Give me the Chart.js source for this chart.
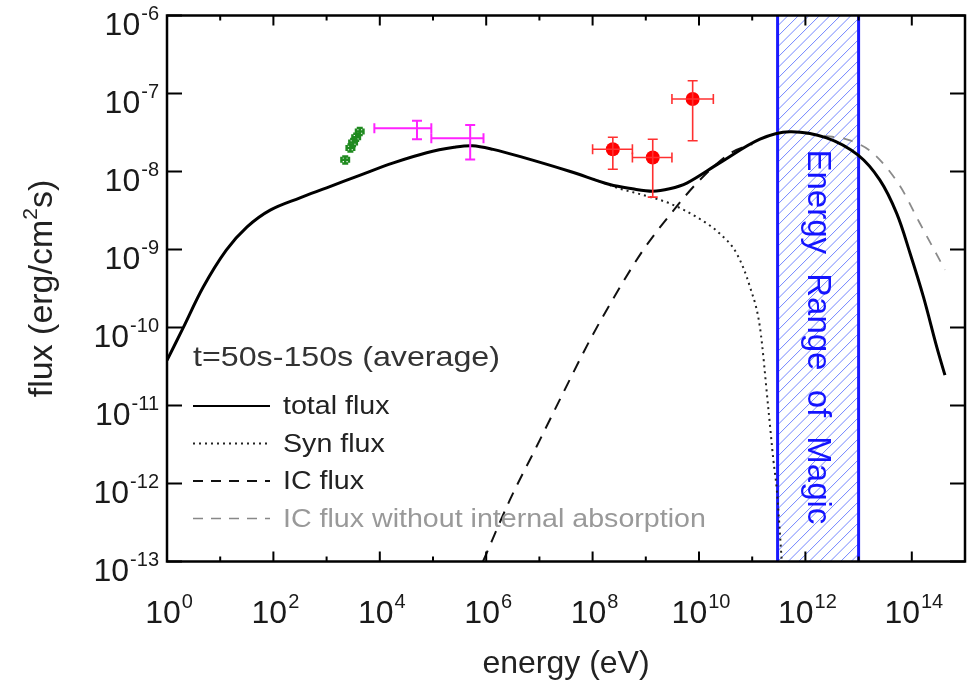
<!DOCTYPE html>
<html>
<head>
<meta charset="utf-8">
<title>SED t=50s-150s</title>
<script src="https://cdn.jsdelivr.net/npm/chart.js@4.4.0/dist/chart.umd.min.js"></script>
<style>
  html, body { margin: 0; padding: 0; background: #fff; }
  #wrap { width: 977px; height: 684px; position: relative; }
</style>
</head>
<body>
<div id="wrap"><canvas id="sed"></canvas></div>
<script>
// energy in eV, flux in erg/cm^2/s
const totalE = [1, 2.0, 4.8, 13, 32, 87, 316, 1e3, 4.3e3, 1.8e4, 7.6e4, 2.5e5, 5.5e5, 1.35e6, 4.4e6, 3.8e7, 2.1e8, 5.6e8, 1.35e9, 2.8e9, 5.9e9, 2.45e10, 1.4e11, 5.1e11, 2.5e12, 9.8e12, 2.5e13, 5.2e13, 9.3e13, 1.66e14, 2.95e14, 4.2e14];
const totalF = [3.8e-11, 9.8e-11, 3.3e-10, 9.8e-10, 1.95e-9, 3.2e-9, 4.6e-9, 6.17e-9, 9.0e-9, 1.29e-8, 1.74e-8, 2.04e-8, 2.14e-8, 1.92e-8, 1.55e-8, 1.0e-8, 6.8e-9, 6.0e-9, 5.6e-9, 6.0e-9, 7.1e-9, 1.29e-8, 2.6e-8, 3.24e-8, 2.7e-8, 1.62e-8, 7.8e-9, 2.9e-9, 8.9e-10, 2.45e-10, 5.6e-11, 2.45e-11];

const synE = [1.0e8, 2.1e8, 3.3e8, 8.9e8, 2.8e9, 9.1e9, 2.45e10, 5.1e10, 9.1e10, 1.4e11, 2.0e11, 2.5e11, 2.9e11, 3.6e11];
const synF = [8.1e-9, 6.7e-9, 6.0e-9, 5.0e-9, 3.9e-9, 2.6e-9, 1.6e-9, 8.9e-10, 3.3e-10, 1.0e-10, 9.5e-12, 2.0e-12, 8.3e-13, 1.0e-13];

const icE = [8.7e5, 2.8e6, 8.9e6, 2.8e7, 8.9e7, 2.8e8, 8.9e8, 2.8e9, 9.1e9, 3.8e10, 1.0e11];
const icF = [1.0e-13, 6.2e-13, 3.0e-12, 1.45e-11, 6.9e-11, 2.75e-10, 9.8e-10, 2.75e-9, 7.1e-9, 1.7e-8, 2.25e-8];

const icNoAbsE = [1.0e12, 2.5e12, 6.9e12, 1.9e13, 6.0e13, 1.4e14, 4.2e14];
const icNoAbsF = [3.05e-8, 2.85e-8, 2.5e-8, 1.7e-8, 6.5e-9, 2.2e-9, 5.5e-10];

// data points with error bars
const greenE = [2.24e3, 2.8e3, 3.15e3, 3.6e3, 4.2e3];
const greenElo = [1.9e3, 2.38e3, 2.68e3, 3.06e3, 3.57e3];
const greenEhi = [2.63e3, 3.3e3, 3.7e3, 4.23e3, 4.93e3];
const greenF = [1.41e-8, 2.0e-8, 2.35e-8, 2.75e-8, 3.25e-8];
const greenFlo = [1.27e-8, 1.8e-8, 2.12e-8, 2.48e-8, 2.93e-8];
const greenFhi = [1.56e-8, 2.22e-8, 2.61e-8, 3.05e-8, 3.6e-8];

const xrtE = [5.0e4, 5.0e5];
const xrtElo = [7.9e3, 9.3e4];
const xrtEhi = [9.3e4, 8.9e5];
const xrtF = [3.58e-8, 2.67e-8];
const xrtFlo = [2.59e-8, 1.43e-8];
const xrtFhi = [4.48e-8, 3.94e-8];

const latE = [2.4e8, 1.35e9, 7.6e9];
const latElo = [1.0e8, 5.6e8, 3.1e9];
const latEhi = [5.6e8, 3.1e9, 1.86e10];
const latF = [1.93e-8, 1.51e-8, 8.5e-8];
const latFlo = [1.07e-8, 4.7e-9, 2.48e-8];
const latFhi = [2.75e-8, 2.59e-8, 1.46e-7];

const magicRange = [3.0e11, 1.0e13];

const xMajorTicks = [1e0, 1e2, 1e4, 1e6, 1e8, 1e10, 1e12, 1e14];
const xMinorTicks = [1e1, 1e3, 1e5, 1e7, 1e9, 1e11, 1e13];
const yTicks = [1e-6, 1e-7, 1e-8, 1e-9, 1e-10, 1e-11, 1e-12, 1e-13];

const legendTitle = 't=50s-150s (average)';
const legendItems = [
    { text: 'total flux', color: '#000', dash: [], textColor: '#222', width: 2 },
    { text: 'Syn flux', color: '#222', dash: [2, 4], textColor: '#222', width: 2 },
    { text: 'IC flux', color: '#111', dash: [10, 8], textColor: '#222', width: 2 },
    { text: 'IC flux without internal absorption', color: '#888', dash: [10, 8], textColor: '#999', width: 1.5 }
];

const FONT = '"Liberation Sans", Arial, Helvetica, sans-serif';

function pts(xs, ys) {
    return xs.map((x, i) => ({ x: x, y: ys[i] }));
}

function expOf(v) {
    return String(Math.round(Math.log10(v)));
}

// text drawn a little wider than the font, like the original figure
function wideText(ctx, text, x, y, sx) {
    ctx.save();
    ctx.translate(x, y);
    ctx.scale(sx, 1);
    ctx.fillText(text, 0, 0);
    ctx.restore();
}

function drawPow(ctx, exp, x, y, align) {
    ctx.font = '32px ' + FONT;
    const wb = ctx.measureText('10').width;
    ctx.font = '20px ' + FONT;
    const we = ctx.measureText(exp).width;
    const total = wb + we + 1;
    const x0 = align === 'right' ? x - total : x - total / 2;
    ctx.textAlign = 'left';
    ctx.textBaseline = 'alphabetic';
    ctx.font = '32px ' + FONT;
    ctx.fillText('10', x0, y);
    ctx.font = '20px ' + FONT;
    ctx.fillText(exp, x0 + wb + 1, y - 15);
}

// hatched band for the MAGIC energy range
const magicBand = {
    id: 'magicBand',
    beforeDatasetsDraw(chart) {
        const { ctx, chartArea: a, scales: { x } } = chart;
        const x0 = x.getPixelForValue(magicRange[0]);
        const x1 = x.getPixelForValue(magicRange[1]);
        const h = a.bottom - a.top;
        ctx.save();
        ctx.beginPath();
        ctx.rect(x0, a.top, x1 - x0, h);
        ctx.clip();
        ctx.strokeStyle = '#7486ff';
        ctx.lineWidth = 1;
        for (let k = -h; k < (x1 - x0) + h; k += 10.5) {
            ctx.beginPath();
            ctx.moveTo(x0 + k, a.bottom);
            ctx.lineTo(x0 + k + h, a.top);
            ctx.stroke();
        }
        ctx.restore();

        ctx.save();
        ctx.strokeStyle = '#1a1aff';
        ctx.lineWidth = 3;
        [x0, x1].forEach(px => {
            ctx.beginPath();
            ctx.moveTo(px, a.top);
            ctx.lineTo(px, a.bottom);
            ctx.stroke();
        });
        ctx.fillStyle = '#1414ff';
        ctx.font = '33px ' + FONT;
        ctx.textAlign = 'left';
        ctx.textBaseline = 'alphabetic';
        ctx.translate((x0 + x1) / 2 - 10, a.top + 134);
        ctx.rotate(Math.PI / 2);
        ctx.wordSpacing = '10px';
        ctx.fillText('Energy Range of Magic', 0, 0);
        ctx.restore();
    }
};

// error bars for the observation points
const errorBars = {
    id: 'errorBars',
    afterDatasetsDraw(chart) {
        const { ctx, scales: { x, y } } = chart;
        const sets = [
            { e: greenE, elo: greenElo, ehi: greenEhi, f: greenF, flo: greenFlo, fhi: greenFhi, color: '#1f8a1f', cap: 3, w: 2.5 },
            { e: xrtE, elo: xrtElo, ehi: xrtEhi, f: xrtF, flo: xrtFlo, fhi: xrtFhi, color: '#ff22ff', cap: 5, w: 2 },
            { e: latE, elo: latElo, ehi: latEhi, f: latF, flo: latFlo, fhi: latFhi, color: '#ff3030', cap: 5, w: 1.6 }
        ];
        ctx.save();
        sets.forEach(s => {
            ctx.strokeStyle = s.color;
            ctx.lineWidth = s.w;
            s.e.forEach((e, i) => {
                const px = x.getPixelForValue(e);
                const py = y.getPixelForValue(s.f[i]);
                const xl = x.getPixelForValue(s.elo[i]);
                const xh = x.getPixelForValue(s.ehi[i]);
                const yl = y.getPixelForValue(s.flo[i]);
                const yh = y.getPixelForValue(s.fhi[i]);
                ctx.beginPath();
                ctx.moveTo(xl, py); ctx.lineTo(xh, py);
                ctx.moveTo(xl, py - s.cap); ctx.lineTo(xl, py + s.cap);
                ctx.moveTo(xh, py - s.cap); ctx.lineTo(xh, py + s.cap);
                ctx.moveTo(px, yl); ctx.lineTo(px, yh);
                ctx.moveTo(px - s.cap, yl); ctx.lineTo(px + s.cap, yl);
                ctx.moveTo(px - s.cap, yh); ctx.lineTo(px + s.cap, yh);
                ctx.stroke();
            });
        });
        ctx.restore();
    }
};

// box, inward ticks, power-of-ten labels, titles and legend
const frame = {
    id: 'frame',
    afterDraw(chart) {
        const { ctx, chartArea: a, scales: { x, y } } = chart;
        ctx.save();
        ctx.strokeStyle = '#000';
        ctx.lineWidth = 2;
        ctx.beginPath();
        xMajorTicks.concat(xMinorTicks).forEach(v => {
            const px = x.getPixelForValue(v);
            const len = xMajorTicks.includes(v) ? 10 : 5;
            ctx.moveTo(px, a.bottom); ctx.lineTo(px, a.bottom - len);
            ctx.moveTo(px, a.top); ctx.lineTo(px, a.top + len);
        });
        yTicks.forEach(v => {
            const py = y.getPixelForValue(v);
            ctx.moveTo(a.left, py); ctx.lineTo(a.left + 15, py);
            ctx.moveTo(a.right, py); ctx.lineTo(a.right - 15, py);
        });
        ctx.stroke();
        ctx.lineWidth = 2.5;
        ctx.strokeRect(a.left, a.top, a.right - a.left, a.bottom - a.top);

        ctx.fillStyle = '#1a1a1a';
        xMajorTicks.forEach(v => {
            drawPow(ctx, expOf(v), x.getPixelForValue(v) + 2, a.bottom + 61, 'center');
        });
        yTicks.forEach(v => {
            drawPow(ctx, expOf(v), a.left - 8, y.getPixelForValue(v) + 19, 'right');
        });

        // axis titles
        ctx.fillStyle = '#222';
        ctx.font = '32px ' + FONT;
        ctx.textAlign = 'center';
        ctx.textBaseline = 'alphabetic';
        ctx.fillText('energy (eV)', (a.left + a.right) / 2, 673);

        ctx.save();
        ctx.translate(52, (a.top + a.bottom) / 2);
        ctx.rotate(-Math.PI / 2);
        ctx.textAlign = 'left';
        ctx.font = '34px ' + FONT;
        const p1 = 'flux (erg/cm', p3 = 's)';
        const w1 = ctx.measureText(p1).width;
        const w3 = ctx.measureText(p3).width;
        ctx.font = '21px ' + FONT;
        const w2 = ctx.measureText('2').width;
        const sx = -(w1 + w2 + w3) / 2;
        ctx.font = '34px ' + FONT;
        ctx.fillText(p1, sx, 0);
        ctx.font = '21px ' + FONT;
        ctx.fillText('2', sx + w1, -15);
        ctx.font = '34px ' + FONT;
        ctx.fillText(p3, sx + w1 + w2, 0);
        ctx.restore();

        // legend
        ctx.textAlign = 'left';
        ctx.textBaseline = 'alphabetic';
        ctx.fillStyle = '#333';
        ctx.font = '28px ' + FONT;
        wideText(ctx, legendTitle, 193, 366, 1.15);
        ctx.font = '26px ' + FONT;
        ctx.textBaseline = 'middle';
        legendItems.forEach((it, i) => {
            const ly = 406 + i * 37.5;
            ctx.strokeStyle = it.color;
            ctx.lineWidth = it.width;
            ctx.setLineDash(it.dash);
            ctx.beginPath();
            ctx.moveTo(193, ly);
            ctx.lineTo(270, ly);
            ctx.stroke();
            ctx.setLineDash([]);
            ctx.fillStyle = it.textColor;
            wideText(ctx, it.text, 283, ly + 1, 1.1);
        });
        ctx.restore();
    }
};

new Chart(document.getElementById('sed'), {
    type: 'scatter',
    data: {
        datasets: [
            { data: pts(latE, latF), pointRadius: 7, pointBackgroundColor: '#ff0000', pointBorderWidth: 0 },
            { data: pts(xrtE, xrtF), pointRadius: 0 },
            { data: pts(greenE, greenF), pointRadius: 0 },
            { data: pts(totalE, totalF), showLine: true, pointRadius: 0, borderColor: '#000', borderWidth: 3, tension: 0.35 },
            { data: pts(synE, synF), showLine: true, pointRadius: 0, borderColor: '#222', borderWidth: 2, borderDash: [2, 4], cubicInterpolationMode: 'monotone' },
            { data: pts(icE, icF), showLine: true, pointRadius: 0, borderColor: '#111', borderWidth: 2, borderDash: [12, 9], cubicInterpolationMode: 'monotone' },
            { data: pts(icNoAbsE, icNoAbsF), showLine: true, pointRadius: 0, borderColor: '#8a8a8a', borderWidth: 1.8, borderDash: [10, 9], cubicInterpolationMode: 'monotone' }
        ]
    },
    options: {
        responsive: true,
        maintainAspectRatio: false,
        animation: false,
        layout: { padding: { top: 15.5, right: 12, left: 0, bottom: 0 } },
        plugins: {
            legend: { display: false },
            tooltip: { enabled: false }
        },
        scales: {
            x: {
                type: 'logarithmic', min: 1, max: 1e15,
                ticks: { display: false }, grid: { display: false }, border: { display: false },
                afterFit: s => { s.height = 122.5; }
            },
            y: {
                type: 'logarithmic', min: 1e-13, max: 1e-6,
                ticks: { display: false }, grid: { display: false }, border: { display: false },
                afterFit: s => { s.width = 167; }
            }
        }
    },
    plugins: [magicBand, errorBars, frame]
});
</script>
</body>
</html>
